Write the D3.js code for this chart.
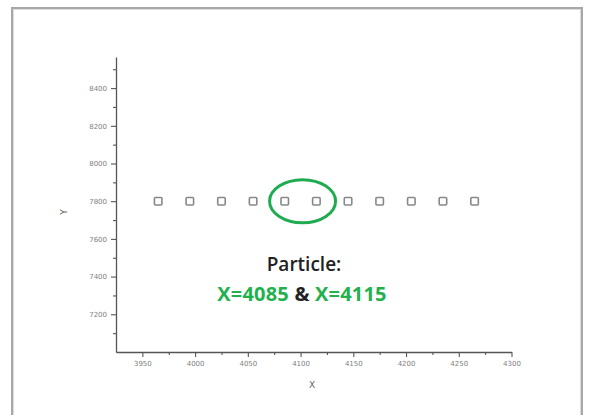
<!DOCTYPE html>
<html><head><meta charset="utf-8">
<script src="https://cdn.jsdelivr.net/npm/d3@7"></script>
<style>body{margin:0;background:#fff}svg{display:block}</style>
</head><body>
<script>
const xValues = [3965, 3995, 4025, 4055, 4085, 4115, 4145, 4175, 4205, 4235, 4265];
const yValues = [7800, 7800, 7800, 7800, 7800, 7800, 7800, 7800, 7800, 7800, 7800];
const xTicks = [3950, 4000, 4050, 4100, 4150, 4200, 4250, 4300];
const yTicks = [7200, 7400, 7600, 7800, 8000, 8200, 8400];
const highlighted = [4085, 4115];

const W = 595, H = 415;
const svg = d3.select("body").append("svg").attr("width", W).attr("height", H);

// outer frame
svg.append("rect").attr("x", 12).attr("y", 8).attr("width", 570).attr("height", 420)
  .attr("fill", "none").attr("stroke", "#a8a8a8").attr("stroke-width", 2);
svg.append("rect").attr("x", 13.5).attr("y", 9.5).attr("width", 567).attr("height", 420)
  .attr("fill", "none").attr("stroke", "#dcdcdc").attr("stroke-width", 1);

const x = d3.scaleLinear().domain([3925, 4300]).range([116, 511.5]);
const y = d3.scaleLinear().domain([7000, 8565]).range([352, 57]);

const fmt = d3.format("d");
const tickFont = "DejaVu Sans";
const gx = svg.append("g").attr("transform", "translate(0,352)")
  .call(d3.axisBottom(x).tickValues(xTicks).tickFormat(fmt).tickSize(5).tickPadding(4).tickSizeOuter(0));
gx.append("g").call(d3.axisBottom(x).tickValues(d3.range(3975, 4300, 50)).tickSize(3).tickFormat(""))
  .select(".domain").remove();
const gy = svg.append("g").attr("transform", "translate(116,0)")
  .call(d3.axisLeft(y).tickValues(yTicks).tickFormat(fmt).tickSize(5).tickPadding(4).tickSizeOuter(0));
gy.append("g").call(d3.axisLeft(y).tickValues(d3.range(7100, 8600, 200)).tickSize(3).tickFormat(""))
  .select(".domain").remove();
[gx, gy].forEach(g => {
  g.selectAll(".domain").attr("stroke", "#555").attr("stroke-width", 1.3);
  g.selectAll(".tick line").attr("stroke", "#555").attr("stroke-width", 1.1);
  g.selectAll(".tick text").attr("fill", "#808080").attr("font-size", 7).attr("font-family", tickFont);
});

svg.append("text").attr("x", 312).attr("y", 388).attr("text-anchor", "middle")
  .attr("font-family", tickFont).attr("font-size", 9).attr("fill", "#666").text("X");
svg.append("text").attr("transform", "translate(67,212) rotate(-90)").attr("text-anchor", "middle")
  .attr("font-family", tickFont).attr("font-size", 9).attr("fill", "#666").text("Y");

// points
const pts = xValues.map((v, i) => ({x: v, y: yValues[i]}));
const s = 7.5;
svg.append("g").selectAll("rect").data(pts).join("rect")
  .attr("x", d => x(d.x) - s / 2).attr("y", d => y(d.y) - s / 2)
  .attr("width", s).attr("height", s).attr("rx", 1)
  .attr("fill", "#fff").attr("stroke", "#888").attr("stroke-width", 1.6);

// highlight ellipse
const cx = (x(highlighted[0]) + x(highlighted[1])) / 2 + 2;
svg.append("ellipse").attr("cx", cx).attr("cy", y(7800))
  .attr("rx", 33).attr("ry", 21.5).attr("fill", "none")
  .attr("stroke", "#1fac50").attr("stroke-width", 3);

// annotation
const annFont = "'Open Sans', sans-serif";
svg.append("text").attr("x", 304).attr("y", 271).attr("text-anchor", "middle")
  .attr("font-family", annFont).attr("font-weight", 600).attr("font-size", 19)
  .attr("fill", "#222").text("Particle:");
const t2 = svg.append("text").attr("x", 302).attr("y", 301).attr("text-anchor", "middle")
  .attr("font-family", annFont).attr("font-weight", 700).attr("font-size", 20)
  .attr("letter-spacing", 0.2);
t2.append("tspan").attr("fill", "#22b14c").text("X=" + highlighted[0]);
t2.append("tspan").attr("fill", "#222").text(" & ");
t2.append("tspan").attr("fill", "#22b14c").text("X=" + highlighted[1]);
</script>
</body></html>
